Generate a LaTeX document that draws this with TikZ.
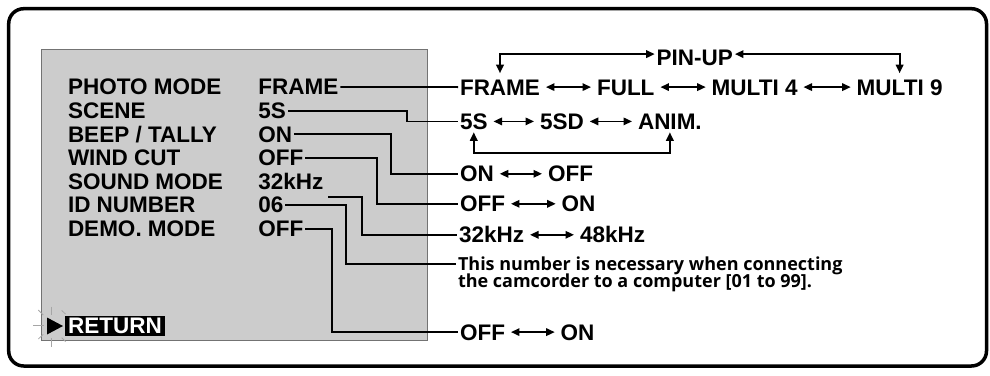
\documentclass[tikz,border=0pt]{standalone}
\usepackage{fontspec}
\setmainfont{Liberation Sans}
\newfontfamily\notefont{Open Sans}
\usetikzlibrary{arrows.meta}
\begin{document}
\begin{tikzpicture}[x=1pt,y=-1pt,
  lab/.style={anchor=base west, inner sep=0pt, outer sep=0pt,
    font=\fontsize{22.5}{26}\selectfont\bfseries, text height=15.8pt, text depth=0pt},
  note/.style={anchor=base west, inner sep=0pt, outer sep=0pt,
    font=\notefont\fontsize{18}{20}\selectfont\bfseries, text height=12.9pt, text depth=0pt},
  conn/.style={line width=1.8pt, shorten <=2pt, shorten >=2pt},
  dbl/.style={line width=1.6pt, {Triangle[length=8.5pt,width=7.5pt]}-{Triangle[length=8.5pt,width=7.5pt]}, shorten <=6pt, shorten >=6pt},
  loopar/.style={line width=1.8pt, {Triangle[length=8.5pt,width=7.5pt]}-{Triangle[length=8.5pt,width=7.5pt]}},
  spark/.style={gray!70, line width=0.8pt}
]
\useasboundingbox (0,0) rectangle (990,375);
\draw[line width=3.5pt, rounded corners=15pt] (8.7,8.7) rectangle (986.5,366);
\draw[fill=black!20, draw=black!55, line width=1pt] (41,49) rectangle (427,340);

% left menu
\node[lab] (k1) at (68,94.9) {PHOTO MODE};
\node[lab] (k2) at (68,118.5) {SCENE};
\node[lab] (k3) at (68,142.1) {BEEP / TALLY};
\node[lab] (k4) at (68,165.7) {WIND CUT};
\node[lab] (k5) at (68,189.3) {SOUND MODE};
\node[lab] (k6) at (68,212.9) {ID NUMBER};
\node[lab] (k7) at (68,236.5) {DEMO. MODE};
\node[lab] (v1) at (258.3,94.9) {FRAME};
\node[lab] (v2) at (258.3,118.5) {5S};
\node[lab] (v3) at (258.3,142.1) {ON};
\node[lab] (v4) at (258.3,165.7) {OFF};
\node[lab] (v5) at (258.3,189.3) {32kHz};
\node[lab] (v6) at (258.3,212.9) {06};
\node[lab] (v7) at (258.3,236.5) {OFF};

% return
\node[fill=black, text=white, inner sep=0pt, minimum width=100pt, minimum height=19.5pt,
  font=\fontsize{22.5}{26}\selectfont\bfseries, text height=15.8pt, text depth=0pt] (ret) at (115,325.75) {RETURN};
\fill (47,317.5) -- (63,326) -- (47,334.5) -- cycle;
\draw[spark] (51.7,306.7) -- (51.7,315);
\draw[spark] (51.7,338) -- (51.7,347);
\draw[spark] (33.3,325.7) -- (43.5,325.7);
\draw[spark] (38.3,310) -- (43.3,315);
\draw[spark] (38.3,339) -- (43.3,334.3);
\draw[spark] (61.7,310.5) -- (65.5,314);
\draw[spark] (61.7,337.7) -- (65.5,341.5);

% right options
\node[lab] (pin) at (656.7,65) {PIN-UP};
\node[lab] (fr) at (460,95) {FRAME};
\node[lab] (fu) at (597,95) {FULL};
\node[lab] (m4) at (711.7,95) {MULTI 4};
\node[lab] (m9) at (856.7,95) {MULTI 9};
\node[lab] (s1) at (460,129.3) {5S};
\node[lab] (s2) at (540,129.3) {5SD};
\node[lab] (s3) at (638,129.3) {ANIM.};
\node[lab] (b1) at (460,181.7) {ON};
\node[lab] (b2) at (548,181.7) {OFF};
\node[lab] (w1) at (460,211.7) {OFF};
\node[lab] (w2) at (561.7,211.7) {ON};
\node[lab] (f1) at (459,242.7) {32kHz};
\node[lab] (f2) at (580,242.7) {48kHz};
\node[note] (id1) at (458,270.5) {This number is necessary when connecting};
\node[note] (id2) at (458,287) {the camcorder to a computer [01 to 99].};
\node[lab] (d1) at (460,340) {OFF};
\node[lab] (d2) at (560.7,340) {ON};

% bend columns
\coordinate (c2) at (407,0);
\coordinate (c3) at (391,0);
\coordinate (c4) at (376.7,0);
\coordinate (c5) at (361.7,0);
\coordinate (c6) at (346,0);
\coordinate (c7) at (331.7,0);
\coordinate (lp) at (0,153.3);
\coordinate (v5s) at ([xshift=3pt,yshift=-15.3pt]v5.east);

% connectors
\draw[conn] (v1.east) -- (fr.west);
\draw[conn] (v2.east) -- (v2.east -| c2) |- (s1.west);
\draw[conn] (v3.east) -- (v3.east -| c3) |- (b1.west);
\draw[conn] (v4.east) -- (v4.east -| c4) |- (w1.west);
\draw[conn] (v5s) -- (v5s -| c5) |- (f1.west);
\draw[conn] (v6.east) -- (v6.east -| c6) |- (id1.west);
\draw[conn] (v7.east) -- (v7.east -| c7) |- (d1.west);

% double arrows
\draw[dbl] (fr.east) -- (fu.west);
\draw[dbl] (fu.east) -- (m4.west);
\draw[dbl] (m4.east) -- (m9.west);
\draw[dbl] (s1.east) -- (s2.west);
\draw[dbl] (s2.east) -- (s3.west);
\draw[dbl] (b1.east) -- (b2.west);
\draw[dbl] (w1.east) -- (w2.west);
\draw[dbl] (f1.east) -- (f2.west);
\draw[dbl] (d1.east) -- (d2.west);

% loops
\draw[loopar, shorten <=6pt, shorten >=2pt] (fr.north) |- ([yshift=3pt]pin.west);
\draw[loopar, shorten <=6pt, shorten >=2pt] (m9.north) |- ([yshift=3pt]pin.east);
\draw[loopar, shorten <=3pt, shorten >=3pt] (s1.south) -- (s1.south |- lp) -| (s3.south);
\end{tikzpicture}
\end{document}
